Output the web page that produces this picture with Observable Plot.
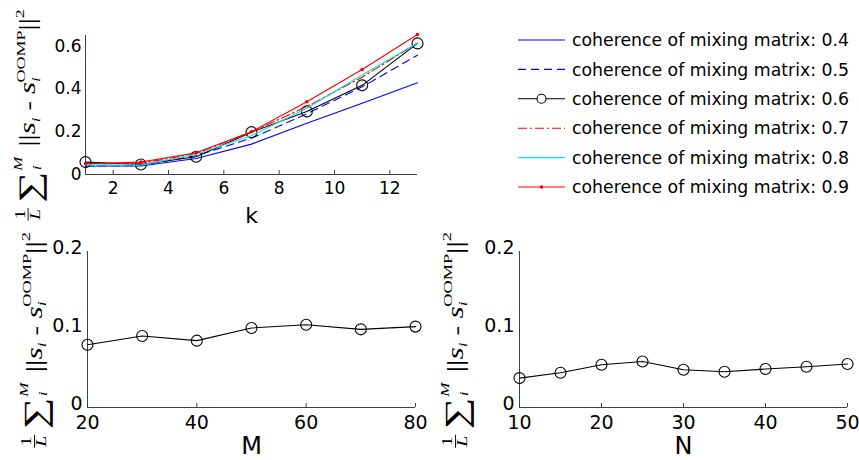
<!DOCTYPE html>
<html><head>
<meta charset="utf-8">
<script src="https://cdn.jsdelivr.net/npm/d3@7"></script>
<script src="https://cdn.jsdelivr.net/npm/@observablehq/plot@0.6"></script>
<style>
body{margin:0;background:#fff;}
#root{position:relative;width:859px;height:460px;overflow:hidden;font-family:"DejaVu Sans",sans-serif;background:#fff;}
.panel{position:absolute;}
#overlay{position:absolute;left:0;top:0;pointer-events:none;}
</style></head><body><div id="root"></div>
<script>
// ---- data ----
const kValues = [1, 3, 5, 7, 9, 11, 13];
const kTicks = [2, 4, 6, 8, 10, 12];
const coherence = [0.4, 0.5, 0.6, 0.7, 0.8, 0.9];
const err04 = [0.040, 0.040, 0.075, 0.142, 0.240, 0.333, 0.429];
const err05 = [0.040, 0.042, 0.088, 0.170, 0.284, 0.410, 0.558];
const err06 = [0.058, 0.047, 0.083, 0.198, 0.295, 0.417, 0.613];
const err07 = [0.050, 0.052, 0.098, 0.198, 0.318, 0.455, 0.615];
const err08 = [0.044, 0.044, 0.095, 0.182, 0.310, 0.465, 0.615];
const err09 = [0.050, 0.058, 0.102, 0.200, 0.340, 0.491, 0.655];
const topTicksY = [0, 0.2, 0.4, 0.6];

const mValues = [20, 30, 40, 50, 60, 70, 80];
const mTicks = [20, 40, 60, 80];
const errM = [0.0805, 0.0917, 0.0857, 0.1020, 0.1060, 0.1002, 0.1037];

const nValues = [10, 15, 20, 25, 30, 35, 40, 45, 50];
const nTicks = [10, 20, 30, 40, 50];
const errN = [0.0377, 0.0446, 0.0548, 0.0590, 0.0484, 0.0458, 0.0493, 0.0523, 0.0557];
const bottomTicksY = [0, 0.1, 0.2];

const legendLabel = c => `coherence of mixing matrix: ${c}`;

// ---- styles (not data) ----
const seriesStyle = [
  {stroke: "#0000ff", dash: null, marker: null},
  {stroke: "#0000ff", dash: "8,5", marker: null},
  {stroke: "#000000", dash: null, marker: "circle"},
  {stroke: "#ff0000", dash: "9,3,2,3", marker: null},
  {stroke: "#00e5e5", dash: null, marker: null},
  {stroke: "#ff0000", dash: null, marker: "point"}
];
const errTop = [err04, err05, err06, err07, err08, err09];
const topSeries = coherence.map((c, i) => kValues.map((k, j) => ({k, err: errTop[i][j], coherence: c})));

const axisColor = "#404040";
const root = document.getElementById("root");

function place(node, left, top) {
  const d = document.createElement("div");
  d.className = "panel";
  d.style.left = left + "px";
  d.style.top = top + "px";
  d.appendChild(node);
  root.appendChild(d);
}

// ---- top panel ----
{
  const W = 430, H = 225, mT = 35, mB = 51;
  const marks = [
    Plot.ruleY([0], {stroke: axisColor}),
    Plot.ruleX([kValues[0]], {stroke: axisColor}),
    Plot.tickX(kTicks, {x: d => d, stroke: axisColor, insetTop: (H - mT - mB) - 4}),
    Plot.axisX(kTicks, {tickSize: 0, tickPadding: 7, tickFormat: d => String(d), label: null, fontSize: 17}),
    Plot.axisY(topTicksY, {tickSize: 0, tickPadding: 4, tickFormat: d => String(d), label: null, fontSize: 17}),
    Plot.text(["k"], {frameAnchor: "bottom", dy: 41, fontSize: 22, lineAnchor: "middle", fill: "#000"})
  ];
  topSeries.forEach((s, i) => {
    const st = seriesStyle[i];
    marks.push(Plot.line(s, {x: "k", y: "err", stroke: st.stroke, strokeWidth: 1.1, strokeDasharray: st.dash}));
    if (st.marker === "circle") marks.push(Plot.dot(s, {x: "k", y: "err", r: 5.5, stroke: st.stroke, fill: "none", strokeWidth: 1.1}));
    if (st.marker === "point") marks.push(Plot.dot(s, {x: "k", y: "err", r: 1.8, fill: st.stroke, stroke: "none"}));
  });
  const p = Plot.plot({
    width: W, height: H, marginLeft: 85, marginRight: 13, marginTop: mT, marginBottom: mB,
    x: {domain: [1, 13]}, y: {domain: [0, 0.65]},
    style: {fontFamily: "DejaVu Sans", color: "#000", background: "transparent", overflow: "visible"},
    marks
  });
  place(p, 0, 0);
}

function bottomPanel(xs, ys, ticks, xLabel, W, mL, mR) {
  const H = 235, mT = 26, mB = 53;
  const data = xs.map((x, i) => ({x, err: ys[i]}));
  return Plot.plot({
    width: W, height: H, marginLeft: mL, marginRight: mR, marginTop: mT, marginBottom: mB,
    x: {domain: [xs[0], xs[xs.length - 1]]}, y: {domain: [0, 0.2]},
    style: {fontFamily: "DejaVu Sans", color: "#000", background: "transparent", overflow: "visible"},
    marks: [
      Plot.ruleY([0], {stroke: axisColor}),
      Plot.ruleX([xs[0]], {stroke: axisColor}),
      Plot.tickX(ticks, {x: d => d, stroke: axisColor, insetTop: (H - mT - mB) - 4}),
      Plot.axisX(ticks, {tickSize: 0, tickPadding: 8, tickFormat: d => String(d), label: null, fontSize: 19}),
      Plot.axisY(bottomTicksY, {tickSize: 0, tickPadding: 5, tickFormat: d => String(d), label: null, fontSize: 19, dy: -3.5}),
      Plot.text([xLabel], {frameAnchor: "bottom", dy: 39, fontSize: 24, lineAnchor: "middle", fill: "#000"}),
      Plot.line(data, {x: "x", y: "err", stroke: "#000", strokeWidth: 1.1}),
      Plot.dot(data, {x: "x", y: "err", r: 5.5, stroke: "#000", fill: "none", strokeWidth: 1.1})
    ]
  });
}
place(bottomPanel(mValues, errM, mTicks, "M", 430, 87, 15), 0, 225);
place(bottomPanel(nValues, errN, nTicks, "N", 429, 89, 12), 430, 225);

// ---- overlay: legend + y labels ----
const ov = d3.select(root).append("svg").attr("id", "overlay").attr("width", 859).attr("height", 460);

// legend
const lg = ov.append("g");
coherence.forEach((c, i) => {
  const st = seriesStyle[i];
  const y = 40 + i * 29.4;
  lg.append("line").attr("x1", 518).attr("x2", 565).attr("y1", y).attr("y2", y)
    .attr("stroke", st.stroke).attr("stroke-width", 1.1).attr("stroke-dasharray", st.dash);
  if (st.marker === "circle") lg.append("circle").attr("cx", 541.5).attr("cy", y).attr("r", 4.5).attr("fill", "#fff").attr("stroke", st.stroke).attr("stroke-width", 1.1);
  if (st.marker === "point") lg.append("circle").attr("cx", 541.5).attr("cy", y).attr("r", 1.8).attr("fill", st.stroke);
  lg.append("text").attr("x", 572).attr("y", y).attr("dy", "0.36em")
    .attr("font-family", "DejaVu Sans").attr("font-size", 17.3).attr("fill", "#000").text(legendLabel(c));
});

// y-label formula: 1/L sum_i^M ||s_i - s_i^OOMP||^2, fitted into a box (left, bottom, thickness, length)
function yLabel(xl, yb, T, L) {
  const outer = ov.append("g");
  const g = outer.append("g").attr("font-family", "'Liberation Serif','DejaVu Serif',serif").attr("fill", "#000");
  g.append("text").attr("x", 5).attr("y", -11).attr("text-anchor", "middle").attr("font-size", 15).text("1");
  g.append("line").attr("x1", 0).attr("x2", 10).attr("y1", -7.5).attr("y2", -7.5).attr("stroke", "#000").attr("stroke-width", 1);
  g.append("text").attr("x", 5).attr("y", 5).attr("text-anchor", "middle").attr("font-size", 15).attr("font-style", "italic").text("L");
  const t = g.append("text").attr("x", 14).attr("y", 0);
  const parts = [
    {s: "∑", fs: 34, y: 5},
    {s: "i", fs: 13, y: 6, it: true, dx: 1},
    {s: "M", fs: 13, y: -14, it: true, dx: -4},
    {s: "||", fs: 24, y: 0, dx: 8},
    {s: "s", fs: 24, y: 0, it: true},
    {s: "i", fs: 13, y: 5, it: true},
    {s: " - ", fs: 22, y: 0},
    {s: "s", fs: 24, y: 0, it: true},
    {s: "i", fs: 13, y: 5, it: true},
    {s: "OOMP", fs: 14, y: -11, dx: -4},
    {s: "||", fs: 24, y: 0},
    {s: "2", fs: 14, y: -12}
  ];
  parts.forEach(p => {
    const ts = t.append("tspan").attr("font-size", p.fs).attr("y", p.y).text(p.s);
    if (p.it) ts.attr("font-style", "italic");
    if (p.dx) ts.attr("dx", p.dx);
  });
  const bb = g.node().getBBox();
  const sx = L / bb.width, sy = T / bb.height;
  outer.attr("transform", `translate(${xl - bb.y * sy},${yb + bb.x * sx}) rotate(-90) scale(${sx},${sy})`);
}
yLabel(11, 221, 36, 212);
yLabel(17, 448, 37, 216);
yLabel(438, 448, 37, 216);
</script>
</body></html>
